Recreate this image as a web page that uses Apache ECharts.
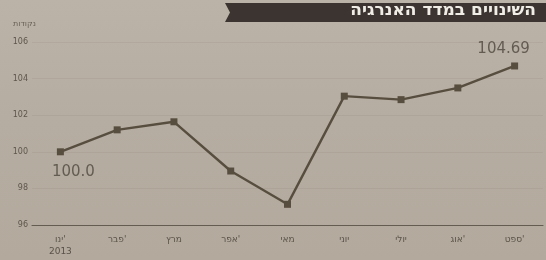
<!DOCTYPE html>
<html>
<head>
<meta charset="utf-8">
<script src="https://cdn.jsdelivr.net/npm/echarts@6/dist/echarts.min.js"></script>
<style>
  html, body { margin: 0; padding: 0; }
  #main { width: 546px; height: 260px; }
</style>
</head>
<body>
<div id="main"></div>
<script>
var dom = document.getElementById('main')
var chart = echarts.init(dom)

// months, Jan - Sep 2013
var months = ["ינו'\n2013", "פבר'", 'מרץ', "אפר'", 'מאי', 'יוני', 'יולי', "אוג'", "ספט'"]
// energy index values
var values = [100.0, 101.2, 101.64, 98.95, 97.13, 103.04, 102.85, 103.49, 104.69]
var labelText = ['100.0', '', '', '', '', '', '', '', '104.69']

var ink = '#584e3f'

var seriesData = values.map(function (v, i) {
    var item = { value: v }
    if (i === 0) {
        item.label = { show: true, formatter: labelText[i], position: 'bottom', offset: [13, 4] }
    }
    if (i === values.length - 1) {
        item.label = { show: true, formatter: labelText[i], position: 'top', offset: [-11, -1] }
    }
    return item
})

var options = {
    backgroundColor: {
        type: 'linear', x: 0, y: 0, x2: 0, y2: 1,
        colorStops: [
            { offset: 0, color: '#bcb3a8' },
            { offset: 0.45, color: '#b6ada2' },
            { offset: 1, color: '#b3a99d' }
        ]
    },
    textStyle: { fontFamily: 'DejaVu Sans' },
    graphic: [
        {
            type: 'polygon',
            shape: { points: [[225, 3], [546, 3], [546, 22], [225, 22], [230, 12.5]] },
            style: { fill: '#3b3430' }
        },
        {
            type: 'text',
            right: 10,
            top: 2,
            style: {
                text: 'השינויים במדד האנרגיה',
                fill: '#f0ece6',
                font: 'bold 17px "DejaVu Sans"'
            }
        },
        {
            type: 'text',
            left: 13,
            top: 20,
            style: {
                text: 'נקודות',
                fill: '#6a6156',
                font: '8px "DejaVu Sans"'
            }
        }
    ],
    grid: { left: 32, width: 511, top: 42, height: 183 },
    xAxis: {
        type: 'category',
        data: months,
        boundaryGap: true,
        axisLine: { lineStyle: { color: '#655c51', width: 1.2 } },
        axisTick: { alignWithLabel: true, length: 3, inside: true, lineStyle: { color: '#655c51' } },
        axisLabel: { color: '#5a5248', fontSize: 9, margin: 9, lineHeight: 12 }
    },
    yAxis: {
        type: 'value',
        min: 96,
        max: 106,
        interval: 2,
        axisLine: { show: false },
        axisTick: { show: false },
        axisLabel: { color: '#5e564c', fontSize: 8, margin: 4, align: 'right' },
        splitLine: { show: true, lineStyle: { color: 'rgba(120,110,100,0.12)', width: 1 } }
    },
    series: [{
        type: 'line',
        data: seriesData,
        symbol: 'rect',
        symbolSize: 7,
        lineStyle: { color: ink, width: 2.4 },
        itemStyle: { color: ink },
        label: { color: '#635c52', fontSize: 15, fontFamily: 'DejaVu Sans' },
        animation: false
    }]
}

chart.setOption(options)
</script>
</body>
</html>
